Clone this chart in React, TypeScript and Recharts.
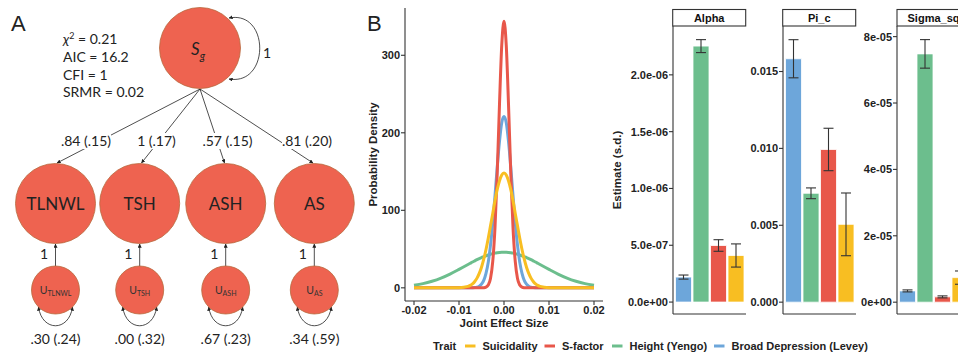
import React from "react";
import { Bar, BarChart, Cell, ErrorBar, Line, LineChart, XAxis, YAxis } from "recharts";

// ---- panel B: densities of the joint effect size ----
const effectX = [
  -0.02, -0.018, -0.016, -0.014, -0.012, -0.01, -0.008, -0.0075, -0.007, -0.0065, -0.006, -0.0055,
  -0.005, -0.0045, -0.004, -0.0035, -0.003, -0.0025, -0.002, -0.0015, -0.001, -0.0005, 0, 0.0005,
  0.001, 0.0015, 0.002, 0.0025, 0.003, 0.0035, 0.004, 0.0045, 0.005, 0.0055, 0.006, 0.0065, 0.007,
  0.0075, 0.008, 0.01, 0.012, 0.014, 0.016, 0.018, 0.02,
];
const suicidalityDensity = [
  0, 0, 0, 0, 0, 0.16, 1.8, 3.1, 5.1, 8.2, 12.5, 18.6, 26.6, 36.9, 49.4, 64, 80, 96, 112.5, 127,
  138, 145.5, 148, 145.5, 138, 127, 112.5, 96, 80, 64, 49.4, 36.9, 26.6, 18.6, 12.5, 8.2, 5.1, 3.1,
  1.8, 0.16, 0, 0, 0, 0, 0,
];
const sFactorDensity = [
  0, 0, 0, 0, 0, 0, 0, 0, 0, 0, 0, 0, 0, 0.2, 0.9, 3.6, 12, 34, 78, 149, 237, 313, 344, 313, 237,
  149, 78, 34, 12, 3.6, 0.9, 0.2, 0, 0, 0, 0, 0, 0, 0, 0, 0, 0, 0, 0, 0,
];
const heightDensity = [
  3.3, 5.4, 8.5, 12.6, 17.8, 23.8, 30.1, 31.7, 33.3, 34.8, 36.3, 37.7, 39, 40.2, 41.4, 42.4, 43.3,
  44.1, 44.8, 45.3, 45.7, 45.9, 46, 45.9, 45.7, 45.3, 44.8, 44.1, 43.3, 42.4, 41.4, 40.2, 39, 37.7,
  36.3, 34.8, 33.3, 31.7, 30.1, 23.8, 17.8, 12.6, 8.5, 5.4, 3.3,
];
const depressionDensity = [
  0, 0, 0, 0, 0, 0, 0, 0, 0.1, 0.3, 0.85, 2.1, 4.7, 9.7, 18.7, 33, 55, 84, 119, 156, 189, 213, 221,
  213, 189, 156, 119, 84, 55, 33, 18.7, 9.7, 4.7, 2.1, 0.85, 0.3, 0.1, 0, 0, 0, 0, 0, 0, 0, 0,
];
const densityXTicks = [-0.02, -0.01, 0, 0.01, 0.02];
const densityYTicks = [0, 100, 200, 300];

// ---- panel B: parameter estimates (order of bars) ----
const barTraits = ["Broad Depression (Levey)", "Height (Yengo)", "S-factor", "Suicidality"];
const alphaEst = [0.22e-6, 2.253e-6, 0.498e-6, 0.41e-6];
const alphaSd = [0.018e-6, 0.057e-6, 0.051e-6, 0.102e-6];
const alphaTicks = [0, 5e-7, 1e-6, 1.5e-6, 2e-6];
const alphaTickLabels = ["0.0e+00", "5.0e-07", "1.0e-06", "1.5e-06", "2.0e-06"];
const piEst = [0.01583, 0.00708, 0.00993, 0.00506];
const piSd = [0.00124, 0.00035, 0.00138, 0.00204];
const piTicks = [0, 0.005, 0.01, 0.015];
const piTickLabels = ["0.000", "0.005", "0.010", "0.015"];
const sigmaEst = [0.34e-5, 7.48e-5, 0.16e-5, 0.74e-5];
const sigmaSd = [0.03e-5, 0.43e-5, 0.03e-5, 0.2e-5];
const sigmaTicks = [0, 2e-5, 4e-5, 6e-5, 8e-5];
const sigmaTickLabels = ["0e+00", "2e-05", "4e-05", "6e-05", "8e-05"];

// legend order
const legendTraits = ["Suicidality", "S-factor", "Height (Yengo)", "Broad Depression (Levey)"];

// ---- panel A: path diagram ----
const fitStats = ["AIC = 16.2", "CFI = 1", "SRMR = 0.02"];
const indicators = ["TLNWL", "TSH", "ASH", "AS"];
const loadings = [".84 (.15)", "1 (.17)", ".57 (.15)", ".81 (.20)"];
const residuals = [".30 (.24)", ".00 (.32)", ".67 (.23)", ".34 (.59)"];

const traitColor: Record<string, string> = {
  Suicidality: "#F8BE22",
  "S-factor": "#E8574A",
  "Height (Yengo)": "#6CBE8D",
  "Broad Depression (Levey)": "#6DA6DA",
};

const ink = "#333333";
const axisFont = { fill: "#222", fontSize: 11, fontWeight: 700 };
const nodeFill = "#EE6350";
const nodeStroke = "#B8683C";

const densityRows = effectX.map((x, i) => ({
  x,
  suicidality: suicidalityDensity[i],
  sfactor: sFactorDensity[i],
  height: heightDensity[i],
  depression: depressionDensity[i],
}));

function EstimatePanel(props: {
  left: number;
  est: number[];
  sd: number[];
  domain: [number, number];
  ticks: number[];
  tickLabels: string[];
}) {
  const rows = barTraits.map((t, i) => ({ trait: t, value: props.est[i], sd: props.sd[i] }));
  return (
    <div style={{ position: "absolute", left: props.left - 50, top: 26 }}>
      <BarChart
        width={124}
        height={296}
        data={rows}
        margin={{ top: 0, right: 1, bottom: 0, left: 0 }}
        barCategoryGap={1}
      >
        <XAxis
          dataKey="trait"
          tick={false}
          tickSize={3}
          height={8}
          padding={{ left: 1.5, right: 1.5 }}
          stroke={ink}
          strokeWidth={1.1}
        />
        <YAxis
          type="number"
          domain={props.domain}
          allowDataOverflow
          ticks={props.ticks}
          interval={0}
          tickFormatter={(_v: number, i: number) => props.tickLabels[i]}
          width={50}
          tickSize={4}
          tickMargin={1}
          tick={axisFont}
          stroke={ink}
          strokeWidth={1.1}
        />
        <Bar dataKey="value" isAnimationActive={false} stroke="#fff" strokeWidth={0.8}>
          {rows.map((r) => (
            <Cell key={r.trait} fill={traitColor[r.trait]} />
          ))}
          <ErrorBar dataKey="sd" direction="y" width={5} stroke={ink} strokeWidth={1.1} />
        </Bar>
      </BarChart>
    </div>
  );
}

function Arrowhead({ id }: { id: string }) {
  return (
    <marker id={id} viewBox="0 0 6 6" refX="5.5" refY="3" markerWidth="5" markerHeight="5" orient="auto-start-reverse">
      <path d="M0,0 L6,3 L0,6 z" fill="#222" />
    </marker>
  );
}

function PathDiagram() {
  const xs = [55.5, 139.7, 225.7, 314.3];
  const labelX = [86, 156.5, 227.5, 307];
  const labelW = [50, 40, 50, 50];
  const arrowEnd = [57, 141.5, 224.5, 313];
  return (
    <svg width={360} height={358} style={{ position: "absolute", left: 0, top: 0, fontFamily: "Lato, 'Open Sans', sans-serif" }}>
      <defs>
        <Arrowhead id="ah" />
      </defs>
      <text x={11} y={31} fontSize={22} fill="#222" fontFamily="'Liberation Sans', Arial, sans-serif">A</text>
      <g fontSize={14} fill="#222">
        <text x={63} y={44}>
          <tspan fontStyle="italic">χ</tspan>
          <tspan dy={-5} fontSize={9}>2</tspan>
          <tspan dy={5}> = 0.21</tspan>
        </text>
        {fitStats.map((s, i) => (
          <text key={s} x={63} y={62 + i * 17.6}>{s}</text>
        ))}
      </g>
      {/* loadings */}
      {xs.map((_, i) => (
        <line key={i} x1={200} y1={89} x2={arrowEnd[i]} y2={163} stroke="#222" strokeWidth={0.8} markerEnd="url(#ah)" />
      ))}
      {loadings.map((l, i) => (
        <g key={l + i}>
          <rect x={labelX[i] - labelW[i] / 2} y={133} width={labelW[i]} height={16} fill="#fff" />
          <text x={labelX[i]} y={146} fontSize={14} textAnchor="middle" fill="#222">{l}</text>
        </g>
      ))}
      {/* general factor */}
      <path d="M 229 18 C 270 10, 270 86, 229 79" fill="none" stroke="#222" strokeWidth={0.8} markerStart="url(#ah)" markerEnd="url(#ah)" />
      <circle cx={200} cy={48} r={40.5} fill={nodeFill} stroke={nodeStroke} strokeWidth={0.8} />
      <text x={198} y={55} fontSize={17} textAnchor="middle" fill="#222">
        <tspan fontStyle="italic">S</tspan>
        <tspan dy={5} fontSize={11} fontStyle="italic">g</tspan>
      </text>
      <text x={263} y={58} fontSize={14} fill="#222">1</text>
      {indicators.map((name, i) => (
        <g key={name}>
          <circle cx={xs[i]} cy={203.5} r={40} fill={nodeFill} stroke={nodeStroke} strokeWidth={0.8} />
          <text x={xs[i]} y={209.5} fontSize={17} textAnchor="middle" fill="#222">{name}</text>
          <line x1={xs[i]} y1={266} x2={xs[i]} y2={244} stroke="#222" strokeWidth={0.8} markerEnd="url(#ah)" />
          <text x={xs[i] - 11.5} y={259} fontSize={14} textAnchor="middle" fill="#222">1</text>
          <path
            d={`M ${xs[i] - 17} 307 C ${xs[i] - 13.5} 332, ${xs[i] + 13.5} 332, ${xs[i] + 17} 307`}
            fill="none"
            stroke="#222"
            strokeWidth={0.8}
            markerStart="url(#ah)"
            markerEnd="url(#ah)"
          />
          <circle cx={xs[i]} cy={290} r={24} fill={nodeFill} stroke={nodeStroke} strokeWidth={0.8} />
          <text x={xs[i]} y={294} fontSize={10.5} textAnchor="middle" fill="#333">
            U<tspan dy={2} fontSize={7}>{name}</tspan>
          </text>
          <text x={xs[i]} y={344} fontSize={14} textAnchor="middle" fill="#222">{residuals[i]}</text>
        </g>
      ))}
    </svg>
  );
}

export default function App() {
  const strips = [
    { left: 672.7, name: "Alpha" },
    { left: 782.7, name: "Pi_c" },
    { left: 897, name: "Sigma_sq" },
  ];
  const legendKeys = [465, 544.5, 612, 714];
  return (
    <div
      style={{
        position: "fixed",
        left: 0,
        top: 0,
        width: 958,
        height: 358,
        overflow: "hidden",
        background: "#fff",
        fontFamily: "'Liberation Sans', Arial, sans-serif",
      }}
    >
      <PathDiagram />

      <div style={{ position: "absolute", left: 360, top: 0 }}>
        <LineChart width={250} height={335} data={densityRows} margin={{ top: 8, right: 7, bottom: 0, left: 0 }}>
          <XAxis
            dataKey="x"
            type="number"
            domain={[-0.022, 0.022]}
            allowDataOverflow
            ticks={densityXTicks}
            interval={0}
            tickFormatter={(v: number) => v.toFixed(2)}
            height={34}
            tickSize={4}
            tickMargin={1}
            tick={axisFont}
            stroke={ink}
            strokeWidth={1.1}
          />
          <YAxis
            type="number"
            domain={[-17, 361]}
            allowDataOverflow
            ticks={densityYTicks}
            interval={0}
            width={45}
            tickSize={4}
            tickMargin={1}
            tick={axisFont}
            stroke={ink}
            strokeWidth={1.1}
          />
          <Line dataKey="height" type="monotone" stroke={traitColor["Height (Yengo)"]} strokeWidth={3} dot={false} isAnimationActive={false} />
          <Line dataKey="depression" type="monotone" stroke={traitColor["Broad Depression (Levey)"]} strokeWidth={3} dot={false} isAnimationActive={false} />
          <Line dataKey="sfactor" type="monotone" stroke={traitColor["S-factor"]} strokeWidth={3} dot={false} isAnimationActive={false} />
          <Line dataKey="suicidality" type="monotone" stroke={traitColor["Suicidality"]} strokeWidth={3} dot={false} isAnimationActive={false} />
        </LineChart>
      </div>

      <EstimatePanel left={672.7} est={alphaEst} sd={alphaSd} domain={[-0.105e-6, 2.43e-6]} ticks={alphaTicks} tickLabels={alphaTickLabels} />
      <EstimatePanel left={782.7} est={piEst} sd={piSd} domain={[-0.00077, 0.01796]} ticks={piTicks} tickLabels={piTickLabels} />
      <EstimatePanel left={897} est={sigmaEst} sd={sigmaSd} domain={[-0.356e-5, 8.32e-5]} ticks={sigmaTicks} tickLabels={sigmaTickLabels} />

      <svg width={958} height={358} style={{ position: "absolute", left: 0, top: 0, pointerEvents: "none" }}>
        <text x={367} y={31} fontSize={22} fill="#222">B</text>
        <text x={377} y={154.5} fontSize={11.5} fontWeight={700} fill="#222" textAnchor="middle" transform="rotate(-90 377 154.5)">
          Probability Density
        </text>
        <text x={504} y={327} fontSize={11.5} fontWeight={700} fill="#222" textAnchor="middle">
          Joint Effect Size
        </text>
        <text x={621} y={170} fontSize={11.5} fontWeight={700} fill="#222" textAnchor="middle" transform="rotate(-90 621 170)">
          Estimate (s.d.)
        </text>
        {strips.map((s) => (
          <g key={s.name}>
            <rect x={s.left} y={9.5} width={73} height={16.5} fill="#fff" stroke={ink} strokeWidth={1.1} />
            <text x={s.left + 36.5} y={22} fontSize={11} fontWeight={700} fill="#111" textAnchor="middle">
              {s.name}
            </text>
          </g>
        ))}
        <text x={433} y={350} fontSize={11} fontWeight={700} fill="#222">Trait</text>
        {legendTraits.map((t, i) => (
          <g key={t}>
            <line x1={legendKeys[i]} y1={346} x2={legendKeys[i] + 10.5} y2={346} stroke={traitColor[t]} strokeWidth={3} />
            <text x={legendKeys[i] + 17.5} y={350} fontSize={11} fontWeight={700} fill="#222">{t}</text>
          </g>
        ))}
      </svg>
    </div>
  );
}
